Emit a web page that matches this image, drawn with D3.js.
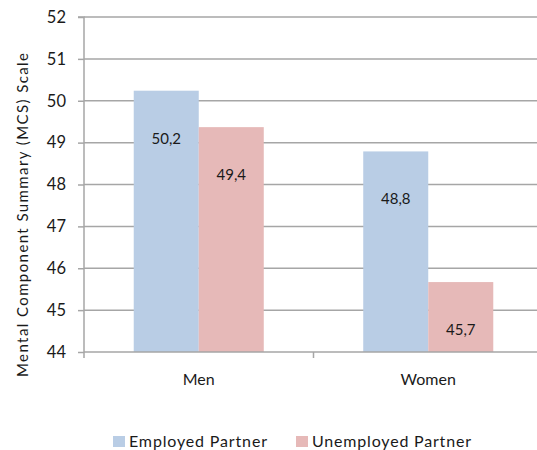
<!DOCTYPE html>
<html><head><meta charset="utf-8">
<script src="https://cdn.jsdelivr.net/npm/d3@7"></script>
<style>body{margin:0;background:#fff}svg{display:block}text{font-family:Lato,"Open Sans",sans-serif;fill:#1a1a1a}</style>
</head><body><svg id="c" width="537" height="450"></svg>
<script>
const categories = ["Men", "Women"];
const seriesNames = ["Employed Partner", "Unemployed Partner"];
const employed = [50.24, 48.79];
const unemployed = [49.37, 45.67];
const valueLabels = [["50,2", "48,8"], ["49,4", "45,7"]];
const yTicks = [44, 45, 46, 47, 48, 49, 50, 51, 52];
const colors = ["#b9cde5", "#e6b9b8"];

(function () {
const svg = d3.select("#c");
const pLeft = 84, pRight = 543, pTop = 17, pBottom = 352;
const y = d3.scaleLinear().domain([44, 52]).range([pBottom, pTop]);
const x = d3.scaleBand().domain(categories).range([pLeft, pRight]);
const xs = d3.scaleBand().domain(seriesNames).range([0, x.bandwidth()]).paddingOuter(0.765);
const gridC = "#a6a6a6";

svg.append("g").selectAll("line").data(yTicks.slice(1)).join("line")
  .attr("x1", pLeft).attr("x2", pRight).attr("y1", d => y(d)).attr("y2", d => y(d))
  .attr("stroke", gridC).attr("stroke-width", 1.5);

const series = [employed, unemployed];
const data = [];
series.forEach((vals, si) => vals.forEach((v, ci) => data.push({s: seriesNames[si], si, c: categories[ci], ci, v})));

svg.append("g").selectAll("rect").data(data).join("rect")
  .attr("x", d => x(d.c) + xs(d.s)).attr("width", xs.bandwidth())
  .attr("y", d => y(d.v)).attr("height", d => y(44) - y(d.v))
  .attr("fill", d => colors[d.si]);

svg.append("g").selectAll("text").data(data).join("text")
  .attr("x", d => x(d.c) + xs(d.s) + xs.bandwidth() / 2)
  .attr("y", d => y(d.v) + 53)
  .attr("text-anchor", "middle").attr("font-size", 15)
  .text(d => valueLabels[d.si][d.ci]);

const ya = d3.axisLeft(y).tickValues(yTicks).tickSize(6).tickPadding(12).tickFormat(d3.format("d"));
const gy = svg.append("g").attr("transform", `translate(${pLeft},0)`).call(ya);
gy.select(".domain").attr("stroke", gridC).attr("stroke-width", 1.5).attr("d", `M-6,${pTop}H0V${pBottom}`);
gy.selectAll(".tick line").attr("stroke", gridC).attr("stroke-width", 1.5);
gy.selectAll(".tick text").attr("font-size", 16.5).attr("fill", "#1a1a1a").style("font-family", "Lato,sans-serif");

const xa = d3.axisBottom(x).tickSize(0).tickPadding(22);
const gx = svg.append("g").attr("transform", `translate(0,${pBottom})`).call(xa);
gx.select(".domain").attr("stroke", gridC).attr("stroke-width", 1.5).attr("d", `M${pLeft},0H${pRight}`);
gx.selectAll(".tick text").attr("font-size", 16).attr("fill", "#1a1a1a").style("font-family", "Lato,sans-serif");
gx.append("g").selectAll("line").data(categories).join("line")
  .attr("x1", d => x(d)).attr("x2", d => x(d)).attr("y1", 0).attr("y2", 6)
  .attr("stroke", gridC).attr("stroke-width", 1.5);

svg.append("text").attr("transform", "translate(28,215) rotate(-90)")
  .attr("text-anchor", "middle").attr("font-size", 15)
  .attr("textLength", 324).attr("lengthAdjust", "spacing")
  .text("Mental Component Summary (MCS) Scale");

const lg = svg.append("g");
const lx = [113, 296];
const lw = [138, 159];
seriesNames.forEach((n, i) => {
  lg.append("rect").attr("x", lx[i]).attr("y", 436).attr("width", 12).attr("height", 11).attr("fill", colors[i]);
  lg.append("text").attr("x", lx[i] + 16).attr("y", 447).attr("font-size", 16)
    .attr("textLength", lw[i]).attr("lengthAdjust", "spacing").text(n);
});
})();
</script></body></html>
